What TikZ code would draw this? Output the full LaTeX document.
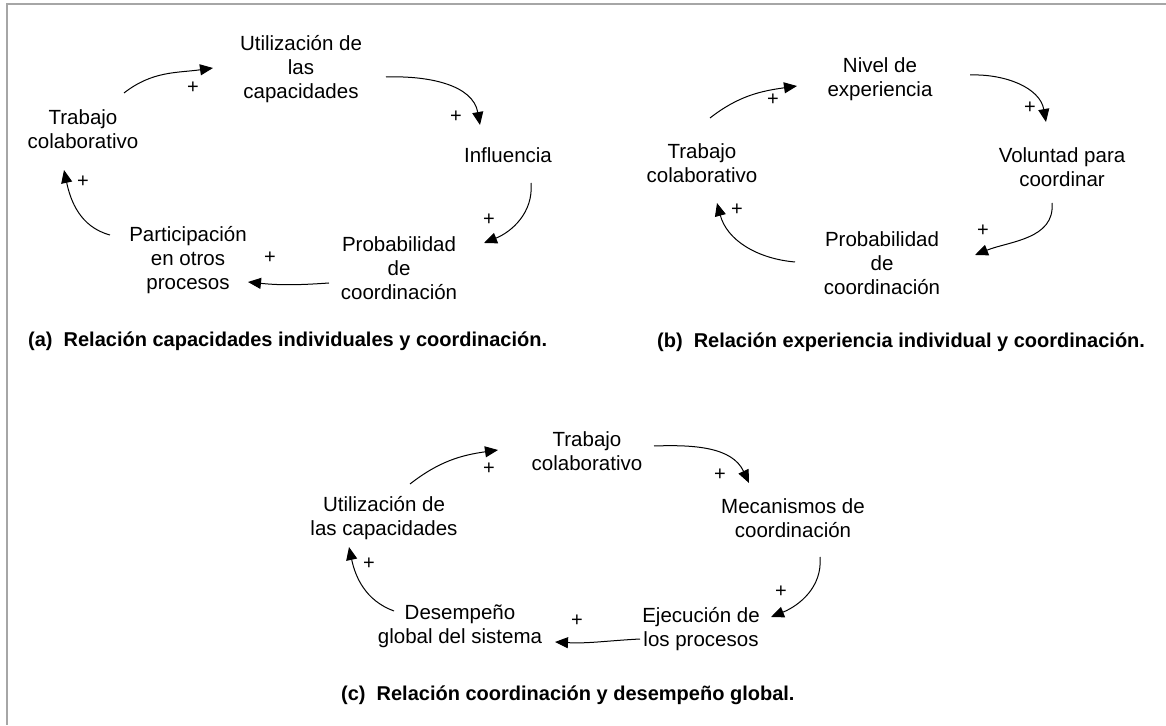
\documentclass[tikz,border=0pt]{standalone}
\usepackage{fontspec}
\setmainfont{Liberation Sans}
\usetikzlibrary{arrows.meta,calc}

\begin{document}
\begin{tikzpicture}[x=1pt,y=1pt,
  concept/.style={align=center,inner sep=0pt,font=\fontsize{20.5}{24}\selectfont},
  sign/.style={inner sep=0pt,font=\fontsize{20}{20}\selectfont},
  caption/.style={anchor=west,inner sep=0pt,font=\fontsize{20}{24}\selectfont\bfseries},
  link/.style={line width=1pt,-{Triangle[length=13pt,width=11pt]}},
  frame/.style={line width=2pt,draw=black!35}]

\useasboundingbox (0,0) rectangle (1166,725);
\draw[frame] (1166,720.5) -- (6.5,720.5) -- (6.5,0);

% ---------- (a) individual capacities and coordination ----------
\node[concept] (utilA) at (301,656) {Utilización de\\las\\capacidades};
\node[concept] (trabA) at (83,596) {Trabajo\\colaborativo};
\node[concept] (inflA) at (508,570) {Influencia};
\node[concept] (probA) at (399,457) {Probabilidad\\de\\coordinación};
\node[concept] (partA) at (188,465) {Participación\\en otros\\procesos};

\draw[link] ($(trabA)+(41,36)$) to[out=38,in=188] ($(utilA)+(-88,1)$);
\draw[link] ($(utilA)+(85,-8)$) to[out=2,in=100] ($(inflA)+(-28,30)$);
\draw[link] ($(inflA)+(23,-28)$) to[out=-85,in=22] ($(probA)+(85,25)$);
\draw[link] ($(probA)+(-70,-15)$) to[out=184,in=-6] ($(partA)+(60,-22)$);
\draw[link] ($(partA)+(-78,25)$) to[out=165,in=-78] ($(trabA)+(-19,-41)$);

\node[sign] (pa1) at (193,637) {+};
\node[sign] (pa2) at (456,608) {+};
\node[sign] (pa3) at (489,505) {+};
\node[sign] (pa4) at (270,467) {+};
\node[sign] (pa5) at (83,543) {+};

\node[caption] (capA) at (28,384) {(a)\hspace{0.55em}Relación capacidades individuales y coordinación.};

% ---------- (b) individual experience and coordination ----------
\node[concept] (nivB) at (880,646) {Nivel de\\experiencia};
\node[concept] (trabB) at (702,562) {Trabajo\\colaborativo};
\node[concept] (volB) at (1062,558) {Voluntad para\\coordinar};
\node[concept] (probB) at (882,462) {Probabilidad\\de\\coordinación};

\draw[link] ($(trabB)+(8,45)$) to[out=38,in=188] ($(nivB)+(-83,-7)$);
\draw[link] ($(nivB)+(90,4)$) to[out=2,in=100] ($(volB)+(-16,45)$);
\draw[link] ($(volB)+(-10,-36)$) to[out=-85,in=22] ($(probB)+(93,8)$);
\draw[link] ($(probB)+(-87,1)$) to[out=175,in=-75] ($(trabB)+(15,-40)$);

\node[sign] (pb1) at (773,625) {+};
\node[sign] (pb2) at (1030,617) {+};
\node[sign] (pb3) at (983,494) {+};
\node[sign] (pb4) at (737,515) {+};

\node[caption] (capB) at (657,383) {(b)\hspace{0.55em}Relación experiencia individual y coordinación.};

% ---------- (c) coordination and global performance ----------
\node[concept] (trabC) at (587,274) {Trabajo\\colaborativo};
\node[concept] (mecC) at (793,207) {Mecanismos de\\coordinación};
\node[concept] (ejeC) at (701,96) {Ejecución de\\los procesos};
\node[concept] (desC) at (460,99) {Desempeño\\global del sistema};
\node[concept] (utilC) at (384,207) {Utilización de\\las capacidades};

\draw[link] ($(utilC)+(26,34)$) to[out=38,in=188] ($(trabC)+(-89,1)$);
\draw[link] ($(trabC)+(67,5)$) to[out=2,in=115] ($(mecC)+(-44,35)$);
\draw[link] ($(mecC)+(27,-39)$) to[out=-85,in=22] ($(ejeC)+(70,12)$);
\draw[link] ($(ejeC)+(-61,-10)$) to[out=183,in=-3] ($(desC)+(95,-16)$);
\draw[link] ($(desC)+(-66,15)$) to[out=160,in=-78] ($(utilC)+(-35,-29)$);

\node[sign] (pc1) at (489,256) {+};
\node[sign] (pc2) at (720,250) {+};
\node[sign] (pc3) at (781,133) {+};
\node[sign] (pc4) at (577,104) {+};
\node[sign] (pc5) at (369,161) {+};

\node[caption] (capC) at (341,30) {(c)\hspace{0.55em}Relación coordinación y desempeño global.};
\end{tikzpicture}
\end{document}
